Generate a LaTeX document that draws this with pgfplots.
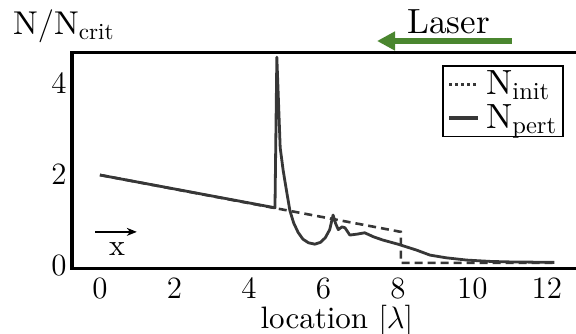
\RequirePackage{fix-cm}
\documentclass[border=0pt]{standalone}
\usepackage{fontspec}
\setmainfont{lmroman10-regular.otf}[BoldFont=lmroman10-bold.otf, ItalicFont=lmroman10-italic.otf]
\usepackage{pgfplots}
\pgfplotsset{compat=1.18}
\usetikzlibrary{arrows.meta}
\definecolor{lasergreen}{RGB}{74,134,47}
\definecolor{curve}{RGB}{55,55,55}
\newcommand{\legfont}{\fontsize{17.5}{17.5}\selectfont}
\begin{document}
\begin{tikzpicture}
\begin{axis}[
  scale only axis, width=254pt, height=108pt,
  xmin=-0.75, xmax=12.89, ymin=-0.044, ymax=4.703,
  xtick={0,2,4,6,8,10,12}, ytick={0,2,4},
  major tick length=0pt,
  axis line style={line width=1.5pt},
  tick label style={font=\fontsize{15.5}{15.5}\selectfont},
  xticklabel style={anchor=base, yshift=-15pt, inner sep=0pt},
  yticklabel style={anchor=east, inner sep=0pt, xshift=-2.5pt},
  clip=false,
  legend cell align=left,
  legend style={at={(1,1)}, anchor=north east, xshift=-8pt, yshift=-6.5pt,
    draw=black, line width=0.8pt, font=\legfont,
    inner xsep=2pt, inner ysep=2pt, row sep=2.5pt,
    nodes={inner sep=0.5pt}},
  legend image code/.code={\draw[#1] (0pt,0pt) -- (14.5pt,0pt);},
]
\addlegendimage{curve, line width=1.5pt, dash pattern=on 1.5pt off 1.5pt}
\addlegendentry{\legfont\hspace{2.5pt}\makebox[36pt][l]{$\mathrm{N}_{\mathrm{init}}$}}
\addlegendimage{curve, line width=2pt}
\addlegendentry{\legfont\hspace{2.5pt}\makebox[36pt][l]{$\mathrm{N}_{\mathrm{pert}}$}}

\addplot[forget plot, curve, line width=1.3pt, dash pattern=on 4pt off 2.5pt] coordinates {
(0,2.0) (8.08,0.75) (8.08,0.07) (12.2,0.07)
};
\addplot[forget plot, curve, line width=1.4pt, line join=round] coordinates {
(0,2.0) (4.70,1.28) (4.75,4.59) (4.84,2.60) (4.92,2.10) (5.00,1.70) (5.10,1.22)
(5.20,0.95) (5.32,0.74) (5.45,0.59) (5.60,0.51) (5.77,0.48) (5.92,0.52) (6.05,0.62)
(6.17,0.80) (6.26,1.12) (6.33,0.93) (6.40,0.80) (6.50,0.86) (6.58,0.84) (6.71,0.68)
(6.90,0.70) (7.11,0.73) (7.35,0.64) (7.60,0.57) (8.00,0.48) (8.50,0.35) (8.86,0.24)
(9.30,0.18) (9.85,0.13) (10.5,0.10) (11.0,0.09) (12.2,0.08)
};

\draw[-{Stealth[length=5pt,width=4pt]}, line width=0.8pt] (axis cs:-0.13,0.75) -- (axis cs:0.99,0.75);
\node[font=\fontsize{15}{15}\selectfont, inner sep=0pt] at (axis cs:0.46,0.38) {x};
\draw[lasergreen, line width=3pt, -{Triangle[length=9pt,width=9pt]}] (axis cs:11.06,4.945) -- (axis cs:7.44,4.945);
\node[anchor=base, font=\fontsize{17.5}{17.5}\selectfont, inner sep=0pt] at (axis cs:9.36,5.12) {Laser};
\node[anchor=base west, font=\fontsize{16.5}{16.5}\selectfont, inner sep=0pt] at (axis cs:-2.34,5.08) {$\mathrm{N}/\mathrm{N}_{\mathrm{crit}}$};
\node[anchor=base, font=\fontsize{15.5}{15.5}\selectfont, inner sep=0pt] at (axis cs:6.36,-1.363) {location $[\lambda]$};
\end{axis}
\pgfresetboundingbox
\path[use as bounding box] (-36pt,-32.5pt) rectangle (252pt,134pt);
\end{tikzpicture}
\end{document}
